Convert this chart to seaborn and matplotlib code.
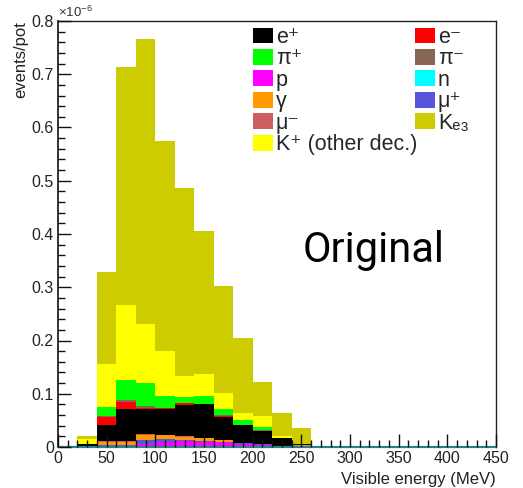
import numpy as np
import pandas as pd
import matplotlib
matplotlib.use("Agg")
import matplotlib.pyplot as plt
import seaborn as sns
from matplotlib.patches import Patch
from matplotlib.ticker import MultipleLocator, FuncFormatter

# ---------------- data (units of 1e-6 events/pot) ----------------
bin_edges = list(range(0, 461, 20))          # 20 MeV bins, 0..460
bin_left = bin_edges[:-1]

n_vals      = [0] * 23
p_vals      = [0, 0.0005, 0.002, 0.002, 0.0057, 0.010, 0.011, 0.010, 0.009, 0.006, 0.004, 0.001, 0.0005] + [0] * 10
mup_vals    = [0, 0.0005, 0.002, 0.002, 0.0069, 0.0045, 0.0016, 0.002, 0.001, 0.001, 0.001, 0.0005, 0.0005] + [0] * 10
gamma_vals  = [0, 0.001, 0.006, 0.006, 0.010, 0.0081, 0.007, 0.004, 0.003, 0.001, 0, 0.0005, 0.003] + [0] * 10
mum_vals    = [0, 0, 0.001, 0.001, 0.001, 0.0004, 0.0004, 0.0005, 0, 0, 0, 0, 0] + [0] * 10
ep_vals     = [0, 0.003, 0.0305, 0.061, 0.0484, 0.048, 0.058, 0.0635, 0.044, 0.0335, 0.025, 0.014, 0.001] + [0] * 10
em_vals     = [0, 0, 0.0155, 0.013, 0.001, 0.003, 0.004, 0.001, 0.002, 0, 0, 0, 0] + [0] * 10
pim_vals    = [0, 0, 0.001, 0.003, 0.004, 0, 0, 0, 0.001, 0.0005, 0.001, 0, 0] + [0] * 10
pip_vals    = [0, 0.001, 0.018, 0.038, 0.044, 0.021, 0.011, 0.015, 0.011, 0.008, 0.007, 0, 0,
               0.002, 0.001, 0.002, 0, 0, 0, 0, 0, 0, 0.001]
kother_vals = [0, 0.0085, 0.080, 0.141, 0.110, 0.085, 0.040, 0.041, 0.030, 0.014, 0.021, 0.004, 0] + [0] * 10
ke3_vals    = [0, 0.0065, 0.173, 0.4475, 0.536, 0.394, 0.354, 0.269, 0.201, 0.140, 0.064, 0.043, 0.030] + [0] * 10

# stacking order, bottom -> top
components = ["n", "p", "mu+", "gamma", "mu-", "e+", "e-", "pi-", "pi+", "K+ other", "Ke3"]
values = {
    "n": n_vals, "p": p_vals, "mu+": mup_vals, "gamma": gamma_vals, "mu-": mum_vals,
    "e+": ep_vals, "e-": em_vals, "pi-": pim_vals, "pi+": pip_vals,
    "K+ other": kother_vals, "Ke3": ke3_vals,
}
colors = {
    "e+": "#000000", "e-": "#ff0000", "pi+": "#00ff00", "pi-": "#876656",
    "p": "#ff00ff", "n": "#00ffff", "gamma": "#ff9900", "mu+": "#5954d9",
    "mu-": "#cf5e61", "Ke3": "#cccc00", "K+ other": "#ffff00",
}
labels = {
    "e+": "e⁺", "e-": "e⁻", "pi+": "π⁺", "pi-": "π⁻",
    "p": "p", "n": "n", "gamma": "γ", "mu+": "μ⁺", "mu-": "μ⁻",
    "Ke3": "Kₑ₃", "K+ other": "K⁺ (other dec.)",
}
legend_col1 = ["e+", "pi+", "p", "gamma", "mu-", "K+ other"]
legend_col2 = ["e-", "pi-", "n", "mu+", "Ke3"]

rows = []
for c in components:
    for left, v in zip(bin_left, values[c]):
        rows.append({"energy": left + 10, "w": v, "comp": c})
df = pd.DataFrame(rows)

# ---------------- style ----------------
sns.set_theme(style="white")
plt.rcParams["font.family"] = ["Liberation Sans", "DejaVu Sans"]
plt.rcParams["mathtext.default"] = "regular"

W, H = 523, 488
fig = plt.figure(figsize=(W / 100, H / 100), dpi=100)
ax = fig.add_axes([58 / W, (H - 447) / H, 438 / W, 426 / H])

sns.histplot(data=df, x="energy", weights="w", hue="comp", hue_order=components[::-1],
             multiple="stack", bins=bin_edges, palette=colors, element="bars",
             linewidth=0, alpha=1, legend=False, ax=ax)

ax.set_xlim(0, 450)
ax.set_ylim(0, 0.8)
ax.xaxis.set_major_locator(MultipleLocator(50))
ax.xaxis.set_minor_locator(MultipleLocator(10))
ax.yaxis.set_major_locator(MultipleLocator(0.1))
ax.yaxis.set_minor_locator(MultipleLocator(0.02))
ax.yaxis.set_major_formatter(FuncFormatter(lambda v, p: "0" if abs(v) < 1e-9 else f"{v:.1f}"))
ax.xaxis.set_major_formatter(FuncFormatter(lambda v, p: f"{v:.0f}"))
ax.tick_params(axis="both", which="both", direction="in", top=False, right=False,
               bottom=True, left=True,
               colors="#111111", labelcolor="#222222", labelsize=11.5)
ax.tick_params(axis="both", which="major", length=9.4, width=1.0)
ax.tick_params(axis="both", which="minor", length=5.0, width=1.0)
ax.tick_params(axis="y", which="major", pad=3)
ax.tick_params(axis="x", which="major", pad=3)
ax.set_axisbelow(False)

for s in ax.spines.values():
    s.set_color("#222222")
    s.set_linewidth(1.0)
ax.spines["left"].set_linewidth(1.3)
ax.spines["bottom"].set_color("#2e7f8c")
ax.spines["bottom"].set_linewidth(1.6)

ax.set_xlabel("Visible energy (MeV)", loc="right", fontsize=12, color="#222222", labelpad=4)
ax.set_ylabel("events/pot", loc="top", fontsize=12, color="#222222", labelpad=2)
ax.text(0.0, 1.003, r"$\times10^{-6}$", transform=ax.transAxes, fontsize=9.5,
        color="#333333", ha="left", va="bottom")

# legend (two columns)
def make_legend(keys, x, y):
    handles = [Patch(facecolor=colors[k], edgecolor="none") for k in keys]
    lg = ax.legend(handles, [labels[k] for k in keys], loc="upper left",
                   bbox_to_anchor=(x, y), bbox_transform=ax.transAxes,
                   frameon=False, fontsize=15.5, handlelength=0.94, handleheight=0.76,
                   handletextpad=0.12, labelspacing=0.02, borderpad=0, borderaxespad=0)
    return lg

lg1 = make_legend(legend_col1, (253 - 58) / 438, (447 - 27) / 426)
ax.add_artist(lg1)
lg2 = make_legend(legend_col2, (415 - 58) / 438, (447 - 27) / 426)

fig.text(303 / W, (H - 262) / H, "Original", fontsize=30, family=["Roboto", "DejaVu Sans"],
         color="black", ha="left", va="baseline")

fig.savefig("out.png", dpi=100)
